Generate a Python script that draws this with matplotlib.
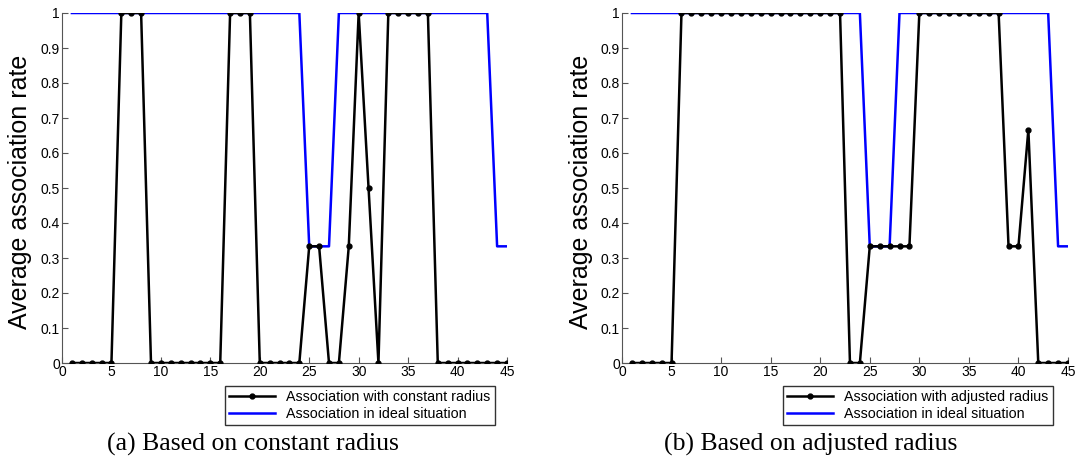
import matplotlib
matplotlib.use('Agg')
import matplotlib.pyplot as plt
import numpy as np

# data
x = np.arange(1, 46)

constant_radius = [0, 0, 0, 0, 0, 1, 1, 1, 0, 0,
                   0, 0, 0, 0, 0, 0, 1, 1, 1, 0,
                   0, 0, 0, 0, 1/3, 1/3, 0, 0, 1/3, 1,
                   0.5, 0, 1, 1, 1, 1, 1, 0, 0, 0,
                   0, 0, 0, 0, 0]

adjusted_radius = [0, 0, 0, 0, 0, 1, 1, 1, 1, 1,
                   1, 1, 1, 1, 1, 1, 1, 1, 1, 1,
                   1, 1, 0, 0, 1/3, 1/3, 1/3, 1/3, 1/3, 1,
                   1, 1, 1, 1, 1, 1, 1, 1, 1/3, 1/3,
                   2/3, 0, 0, 0, 0]

ideal = [1] * 24 + [1/3] * 3 + [1] * 16 + [1/3] * 2

panels = [
    (constant_radius, 'Association with constant radius', '(a) Based on constant radius'),
    (adjusted_radius, 'Association with adjusted radius', '(b) Based on adjusted radius'),
]

W, H = 1082, 461
fig = plt.figure(figsize=(W / 100, H / 100), dpi=100)
plt.rcParams['font.family'] = ['Liberation Sans', 'DejaVu Sans']

# axes boxes in pixels: left, right, top, bottom
boxes = [(62, 507, 13, 363), (622, 1068, 13, 363)]
ylabel_x = [32, 593]
legend_right = [495, 1053]
caption_x = [253, 811]

for (vals, lab, caption), (l, r, t, b), yl, lr, cx in zip(panels, boxes, ylabel_x,
                                                          legend_right, caption_x):
    ax = fig.add_axes([l / W, 1 - b / H, (r - l) / W, (b - t) / H])
    h1, = ax.plot(x, vals, color='black', lw=1.8, marker='o', ms=3.5, zorder=3)
    h2, = ax.plot(x, ideal, color='#0000ff', lw=1.8, zorder=2)

    ax.set_xlim(0, 45)
    ax.set_ylim(0, 1)
    ax.set_xticks(range(0, 46, 5))
    yt = np.round(np.arange(0, 1.01, 0.1), 1)
    ax.set_yticks(yt)
    ax.set_yticklabels(['0' if v == 0 else ('1' if v == 1 else f'{v:g}') for v in yt])
    ax.tick_params(direction='in', length=4, labelsize=10, width=0.8, color='#555555', pad=1.5)
    for s in ['top', 'right']:
        ax.spines[s].set_visible(False)
    for s in ['left', 'bottom']:
        ax.spines[s].set_color('#555555')
    ax.set_ylabel('Average association rate', fontsize=18)
    ax.yaxis.set_label_coords((yl - l) / (r - l), (b - 192) / (b - t))

    leg = ax.legend([h1, h2], [lab, 'Association in ideal situation'],
                    loc='upper right', bbox_to_anchor=(lr / W, 1 - 386 / H),
                    bbox_transform=fig.transFigure, fontsize=10.3, frameon=True,
                    fancybox=False, borderpad=0.3, labelspacing=0.2,
                    handlelength=3.2, handletextpad=0.8, borderaxespad=0)
    leg.get_frame().set_edgecolor('black')
    leg.get_frame().set_linewidth(1)

    fig.text(cx / W, 1 - 444 / H, caption, ha='center', va='center',
             fontsize=18.5, family='Liberation Serif')

fig.savefig('out.png', dpi=100)
